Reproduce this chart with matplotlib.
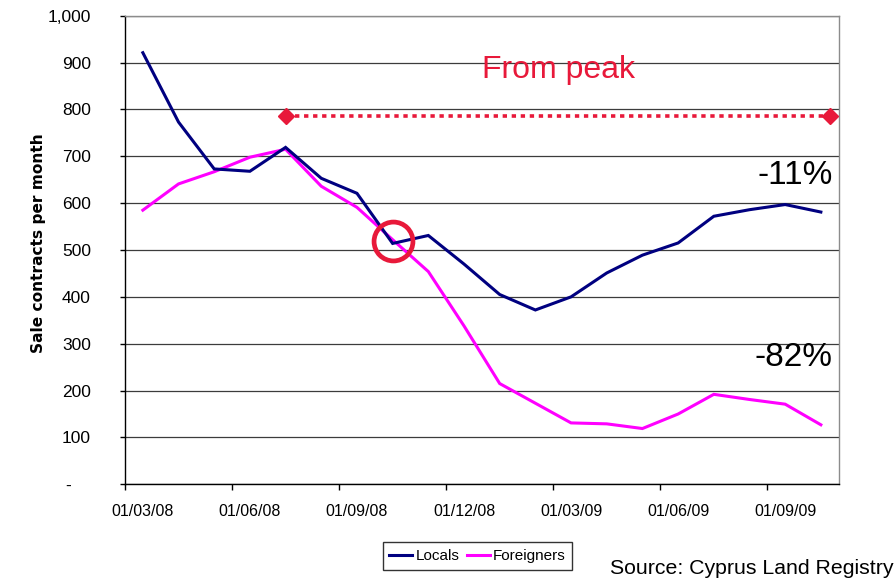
import numpy as np
import matplotlib.pyplot as plt
from matplotlib.lines import Line2D

# monthly sale contracts, March 2008 - October 2009
months = ["01/03/08", "01/04/08", "01/05/08", "01/06/08", "01/07/08",
          "01/08/08", "01/09/08", "01/10/08", "01/11/08", "01/12/08",
          "01/01/09", "01/02/09", "01/03/09", "01/04/09", "01/05/09",
          "01/06/09", "01/07/09", "01/08/09", "01/09/09", "01/10/09"]
locals_ = [921, 773, 673, 668, 719, 653, 621, 514, 531, 470,
           405, 372, 400, 451, 489, 515, 572, 586, 597, 581]
foreigners = [585, 641, 667, 698, 715, 636, 591, 522, 454, 338,
              215, 173, 131, 129, 119, 150, 192, 181, 171, 127]

y_ticks = [0, 100, 200, 300, 400, 500, 600, 700, 800, 900, 1000]
y_labels = ["-    ", "100", "200", "300", "400", "500", "600", "700",
            "800", "900", "1,000"]

peak_level = 786          # "from peak" reference line
peak_span = (4, 19.27)    # from the July 08 peak to the right edge
cross_point = (7, 520)    # where the two series cross

NAVY = "#000080"
MAGENTA = "#FF00FF"
RED = "#E8193A"
narrow = ["Liberation Sans Narrow", "Liberation Sans", "DejaVu Sans"]
plain = ["Liberation Sans", "DejaVu Sans"]

fig = plt.figure(figsize=(8.96, 5.83), dpi=100)
ax = fig.add_axes([125 / 896, 1 - 484.3 / 583, (838.7 - 125) / 896, (484.3 - 15.7) / 583])

x = np.arange(len(months))
ax.plot(x, locals_, color=NAVY, lw=2.2, label="Locals", zorder=4, solid_joinstyle="miter")
ax.plot(x, foreigners, color=MAGENTA, lw=2.2, label="Foreigners", zorder=3, solid_joinstyle="miter")

# dotted peak line with diamond ends
ax.plot(peak_span, [peak_level, peak_level], color=RED, lw=2.6,
        linestyle=(0, (1.2, 1.3)), dash_capstyle="butt", zorder=5)
ax.plot(peak_span, [peak_level, peak_level], "D", color=RED, ms=8.5, zorder=6)

# circle on the crossing
ax.plot([cross_point[0]], [cross_point[1]], "o", ms=28, mfc="none",
        mec=RED, mew=3.4, zorder=7)

ax.text(11.64, 884, "From peak", color=RED, fontsize=23, family=plain,
        ha="center", va="center")
ax.text(19.33, 660, "-11%", color="black", fontsize=24, family=plain,
        ha="right", va="center")
ax.text(19.33, 270, "-82%", color="black", fontsize=24, family=plain,
        ha="right", va="center")

ax.set_xlim(-0.5, len(months) - 0.5)
ax.set_ylim(0, 1000)

# category axis: tick marks between groups, labels on every third month
ax.set_xticks(np.arange(-0.5, len(months) - 1, 3))
ax.set_xticklabels([])
ax.set_xticks(x[::3], minor=True)
ax.set_xticklabels(months[::3], minor=True, family=narrow, fontsize=11.5)
ax.tick_params(axis="x", which="major", direction="out", length=4, width=1, color="black")
ax.tick_params(axis="x", which="minor", length=0, pad=14)

ax.set_yticks(y_ticks)
ax.set_yticklabels(y_labels, family=narrow, fontsize=12.5)
ax.tick_params(axis="y", direction="out", length=3.6, width=1, pad=21)

ax.yaxis.grid(True, color="#3c3c3c", lw=0.9)
ax.set_axisbelow(True)

for side in ("left", "bottom"):
    ax.spines[side].set_color("black")
    ax.spines[side].set_linewidth(1.0)
for side in ("top", "right"):
    ax.spines[side].set_color("#8c8c8c")
    ax.spines[side].set_linewidth(1.0)

fig.text(38 / 896, 1 - 243 / 583, "Sale contracts per month", rotation=90,
         fontsize=11.1, fontweight="bold", family=["DejaVu Sans"],
         ha="center", va="center")

handles = [Line2D([], [], color=NAVY, lw=2.2), Line2D([], [], color=MAGENTA, lw=2.2)]
leg = fig.legend(handles, ["Locals", "Foreigners"], loc="center",
                 bbox_to_anchor=(477.5 / 896, 1 - 556 / 583), ncol=2,
                 frameon=True, fancybox=False, edgecolor="black",
                 prop={"family": narrow, "size": 11}, handlelength=1.5,
                 handletextpad=0.2, columnspacing=0.5, borderpad=0.45,
                 borderaxespad=0)
leg.get_frame().set_linewidth(1.0)

fig.text(893 / 896, 1 - 568 / 583, "Source: Cyprus Land Registry",
         fontsize=15.3, family=plain, ha="right", va="center")

fig.savefig("out.png", dpi=100)
